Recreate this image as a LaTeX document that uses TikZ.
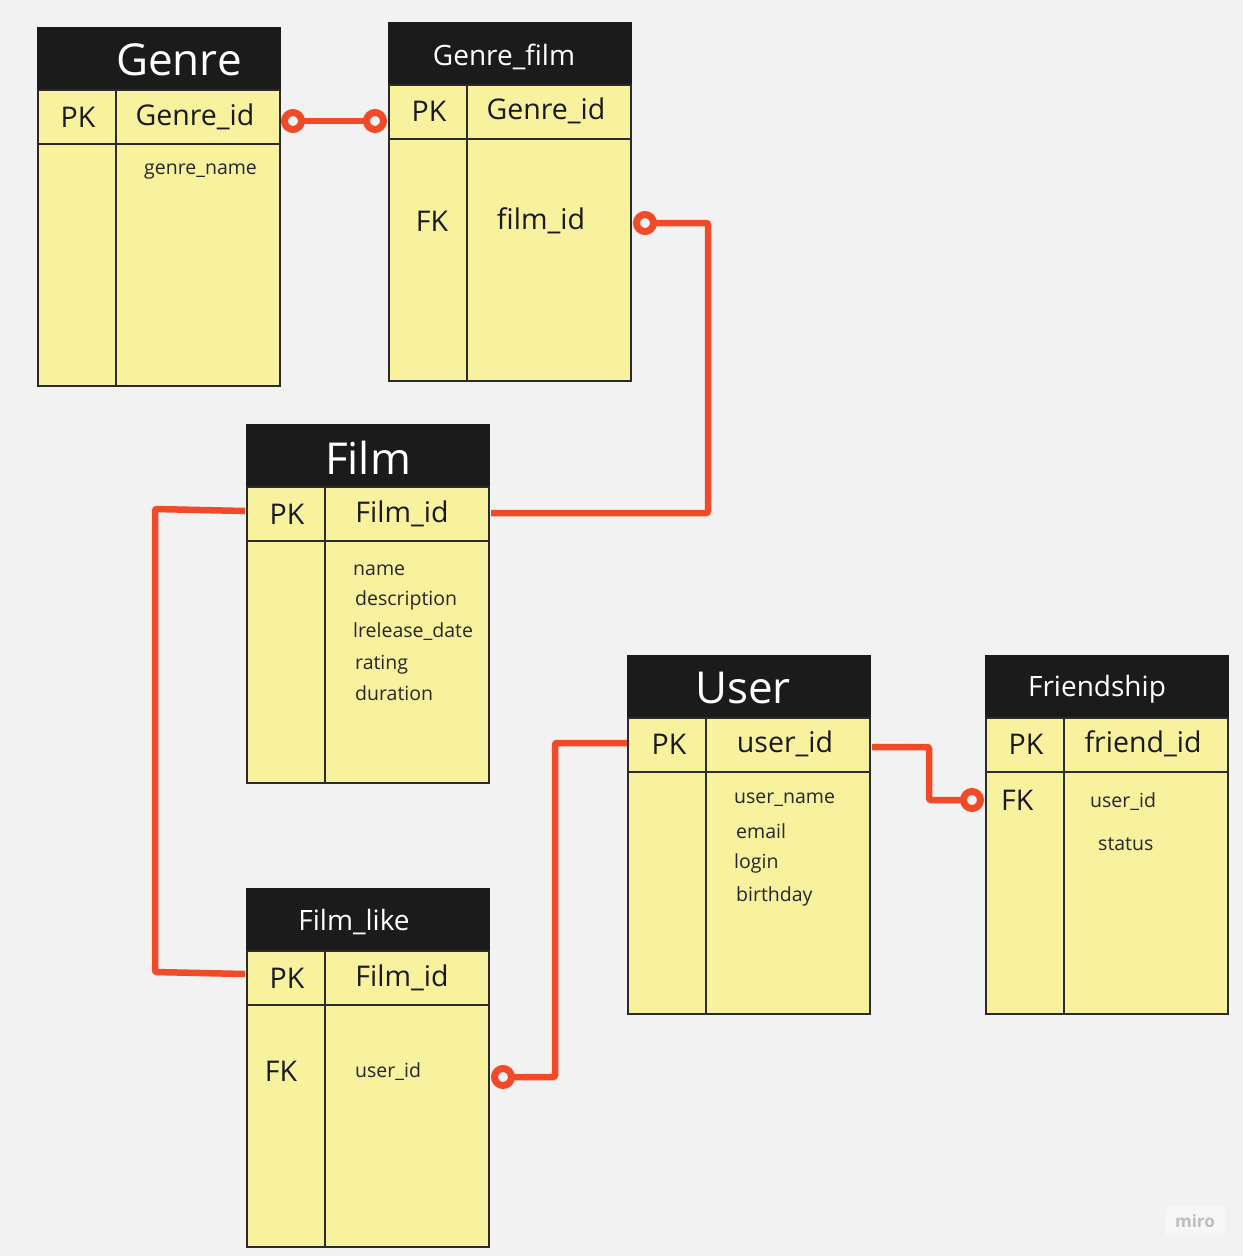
\documentclass[tikz,border=0pt]{standalone}
\usepackage{fontspec}
\setmainfont{Open Sans}
\definecolor{bgcol}{HTML}{F2F2F2}
\definecolor{cellfill}{HTML}{F8F19E}
\definecolor{headfill}{HTML}{1B1B1B}
\definecolor{framecol}{HTML}{2B2B2B}
\definecolor{relred}{HTML}{F04A28}
\definecolor{logogray}{HTML}{BDBDBD}
\definecolor{logobg}{HTML}{F6F6F6}

% table frame: name, left x, top y (pixel units, y grows downwards)
\newcommand\ertable[3]{%
  \node[tablebox, anchor=north west] (#1) at (#2,#3) {};
  \fill[headfill] (#2-1,#3-1) rectangle (#2+243,#3+62);
  \draw[grid] (#2,#3+62) -- (#2+242,#3+62);
  \draw[grid] (#2,#3+116) -- (#2+242,#3+116);
  \draw[grid] (#2+78,#3+62) -- (#2+78,#3+358);
}

\begin{document}
\begin{tikzpicture}[x=1pt,y=-1pt,
  tablebox/.style={draw=framecol, line width=2pt, fill=cellfill, outer sep=0pt,
    minimum width=242pt, minimum height=358pt, inner sep=0pt},
  grid/.style={draw=framecol, line width=2pt},
  bigtitle/.style={text=white, font=\fontsize{44}{50}\selectfont, inner sep=0pt},
  midtitle/.style={text=white, font=\fontsize{28}{32}\selectfont, inner sep=0pt},
  keytext/.style={text=black!90, font=\fontsize{28.5}{32}\selectfont, inner sep=0pt},
  fieldtext/.style={text=black!85, font=\fontsize{19.5}{22}\selectfont, inner sep=0pt, anchor=west},
  rel/.style={draw=relred, line width=6.5pt, rounded corners=2pt},
  ring/.style={circle, draw=relred, line width=7pt, fill=bgcol,
    minimum size=17pt, inner sep=0pt},
]
\fill[bgcol] (0,0) rectangle (1243,1256);
\useasboundingbox (0,0) rectangle (1243,1256);

% ---- tables ----
\ertable{genre}{38}{28}
\ertable{genrefilm}{389}{23}
\ertable{film}{247}{425}
\ertable{filmlike}{247}{889}
\ertable{user}{628}{656}
\ertable{friendship}{986}{656}

% ---- Genre ----
\node[bigtitle] (genre-title) at (179,60) {Genre};
\node[keytext] (genre-pk) at (78,117) {PK};
\node[keytext] (genre-id) at (195,117) {Genre\_id};
\node[fieldtext] (genre-name) at (144,172) {genre\_name};

% ---- Genre_film ----
\node[midtitle] (gf-title) at (504,57) {Genre\_film};
\node[keytext] (gf-pk) at (429,111) {PK};
\node[keytext] (gf-id) at (546,111) {Genre\_id};
\node[keytext] (gf-fk) at (432,221) {FK};
\node[keytext] (gf-film) at (541,221) {film\_id};

% ---- Film ----
\node[bigtitle] (film-title) at (368,458) {Film};
\node[keytext] (film-pk) at (287,514) {PK};
\node[keytext] (film-id) at (402,514) {Film\_id};
\node[fieldtext] (film-f1) at (353,570) {name};
\node[fieldtext] (film-f2) at (355,600) {description};
\node[fieldtext] (film-f3) at (353,632) {lrelease\_date};
\node[fieldtext] (film-f4) at (355,665) {rating};
\node[fieldtext] (film-f5) at (355,693) {duration};

% ---- Film_like ----
\node[midtitle] (fl-title) at (354,922) {Film\_like};
\node[keytext] (fl-pk) at (287,978) {PK};
\node[keytext] (fl-id) at (402,978) {Film\_id};
\node[keytext] (fl-fk) at (281,1071) {FK};
\node[fieldtext] (fl-user) at (355,1072) {user\_id};

% ---- User ----
\node[bigtitle] (user-title) at (743,688) {User};
\node[keytext] (user-pk) at (669,744) {PK};
\node[keytext] (user-id) at (785,744) {user\_id};
\node[fieldtext] (user-f1) at (734,800) {user\_name};
\node[fieldtext] (user-f2) at (736,831) {email};
\node[fieldtext] (user-f3) at (734,863) {login};
\node[fieldtext] (user-f4) at (736,896) {birthday};

% ---- Friendship ----
\node[midtitle] (fr-title) at (1097,689) {Friendship};
\node[keytext] (fr-pk) at (1026,744) {PK};
\node[keytext] (fr-id) at (1143,744) {friend\_id};
\node[keytext, anchor=west] (fr-fk) at (1001,800) {FK};
\node[fieldtext] (fr-user) at (1090,802) {user\_id};
\node[fieldtext] (fr-status) at (1098,844) {status};

% ---- connector points ----
\coordinate (c1a) at (293,121);
\coordinate (c1b) at (375,121);
\coordinate (c2a) at (645,223);
\coordinate (c2b) at (708,223);
\coordinate (c2c) at (708,513);
\coordinate (c2d) at (491,513);
\coordinate (c3a) at (245,511);
\coordinate (c3b) at (155,509);
\coordinate (c3c) at (155,972);
\coordinate (c3d) at (245,974);
\coordinate (c4a) at (503,1077);
\coordinate (c4b) at (555,1077);
\coordinate (c4c) at (555,743);
\coordinate (c4d) at (627,743);
\coordinate (c5a) at (872,747);
\coordinate (c5b) at (929,747);
\coordinate (c5c) at (929,800);
\coordinate (c5d) at (972,800);

% ---- relations ----
\draw[rel] (c1a) -- (c1b);
\draw[rel] (c2a) -- (c2b) -- (c2c) -- (c2d);
\draw[rel] (c3a) -- (c3b) -- (c3c) -- (c3d);
\draw[rel] (c4a) -- (c4b) -- (c4c) -- (c4d);
\draw[rel] (c5a) -- (c5b) -- (c5c) -- (c5d);

\node[ring] (r1a) at (c1a) {};
\node[ring] (r1b) at (c1b) {};
\node[ring] (r2a) at (c2a) {};
\node[ring] (r4a) at (c4a) {};
\node[ring] (r5d) at (c5d) {};

% ---- logo ----
\node[fill=logobg, rounded corners=3pt, minimum width=60pt, minimum height=30pt,
  text=logogray, font=\fontsize{17}{20}\selectfont\bfseries] (logo) at (1195,1221) {miro};
\end{tikzpicture}
\end{document}
